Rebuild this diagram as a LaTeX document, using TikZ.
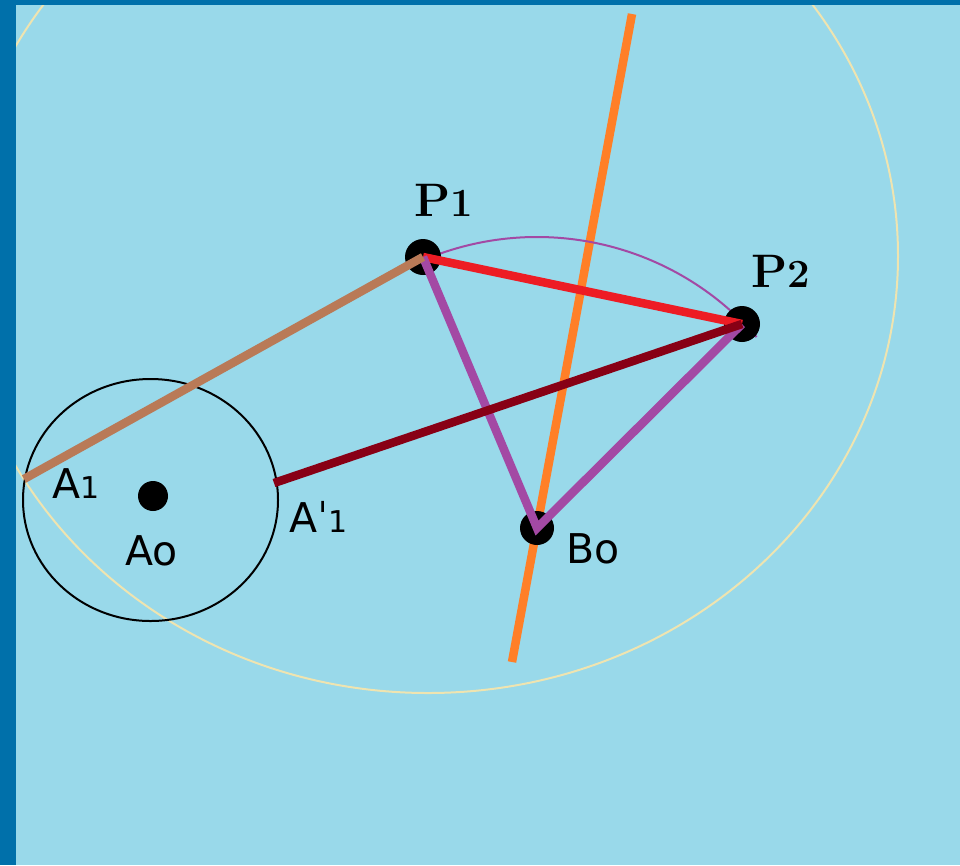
\documentclass[tikz,border=0pt]{standalone}
\usepackage{fontspec}
\newfontfamily\lblfont{DejaVu Sans}
\definecolor{frameblue}{HTML}{0070AA}
\definecolor{sky}{HTML}{99D9EA}
\definecolor{paleyellow}{HTML}{EFE4B0}
\definecolor{rodbrown}{HTML}{B97A57}
\definecolor{roddark}{HTML}{880015}
\definecolor{rodred}{HTML}{ED1C24}
\definecolor{rodpurple}{HTML}{A349A4}
\definecolor{rodorange}{HTML}{FF7F27}
\begin{document}
\begin{tikzpicture}[x=1pt, y=-1pt,
  dot/.style={fill=black},
  rod/.style={line width=8.5pt},
  thin/.style={line width=2pt},
  lbl/.style={anchor=base west, inner sep=0pt, font=\lblfont\fontsize{41}{41}\selectfont},
  plbl/.style={anchor=base west, inner sep=0pt, font=\bfseries\fontsize{47}{47}\selectfont}
]
  \useasboundingbox (0,0) rectangle (960,865);
  \fill[frameblue] (0,0) rectangle (960,865);
  \fill[sky] (16,5) rectangle (960,865);

  \coordinate (A0) at (153,496);
  \coordinate (A1) at (24,479);
  \coordinate (A1p) at (274,483);
  \coordinate (P1) at (423,257);
  \coordinate (P2) at (742,324);
  \coordinate (B0) at (537,528);
  \coordinate (M1) at (632,14);
  \coordinate (M2) at (512,662);

  \begin{scope}
    \clip (16,5) rectangle (960,865);
    \draw[paleyellow, thin] (428,256) ellipse[x radius=470, y radius=437];
  \end{scope}
  \draw[black, thin] (150.5,500) ellipse[x radius=127.5, y radius=121];

  \draw[rodorange, rod] (M1) -- (M2);
  \draw[rodpurple, thin] (B0) ++(-113:291) arc[start angle=-113, end angle=-41, radius=291];

  \fill[dot] (A0) circle[radius=15];
  \fill[dot] (P1) circle[radius=18];
  \fill[dot] (P2) circle[radius=18];
  \fill[dot] (B0) circle[radius=17];

  \draw[rodred, rod] (P1) -- (P2);
  \draw[rodpurple, rod] (P1) -- (B0) -- (P2);
  \draw[rodbrown, rod] (A1) -- (P1);
  \draw[roddark, rod] (A1p) -- (P2);

  \node[lbl] (la1) at (52,498) {A{\fontsize{30}{30}\selectfont 1}};
  \node[lbl] (la0) at (125,565) {Ao};
  \node[lbl] (la1p) at (289,532) {Aˈ{\fontsize{30}{30}\selectfont 1}};
  \node[lbl] (lb0) at (566,563) {Bo};
  \node[plbl] (lp1) at (414,216) {P{\fontsize{40}{40}\selectfont 1}};
  \node[plbl] (lp2) at (751,287) {P{\fontsize{40}{40}\selectfont 2}};
\end{tikzpicture}
\end{document}
